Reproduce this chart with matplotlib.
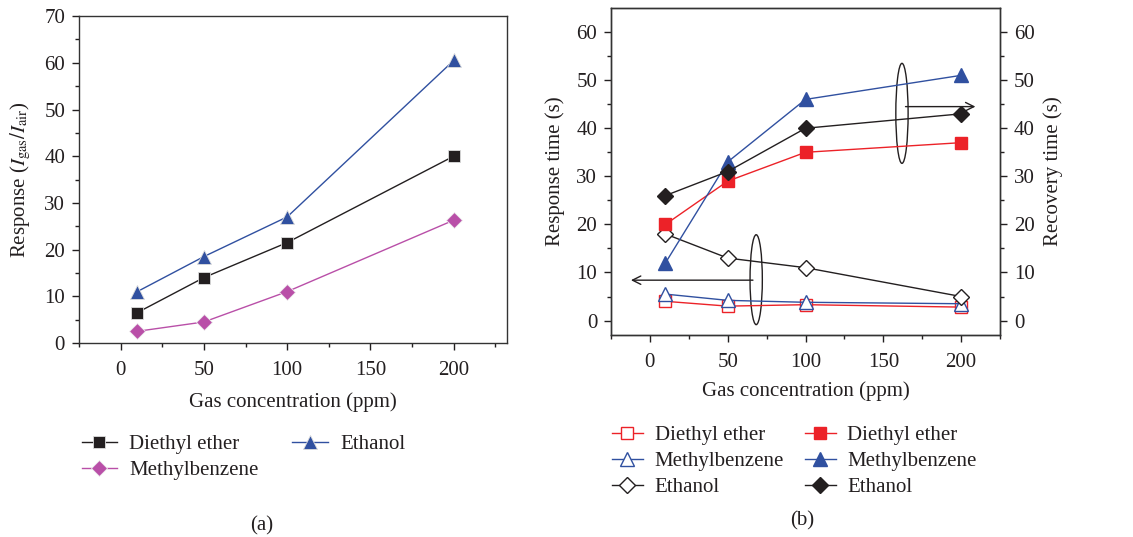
import matplotlib
matplotlib.use("Agg")
from matplotlib import pyplot as plt
from matplotlib.patches import Ellipse
import numpy as np

plt.rcParams['font.family'] = ['Liberation Serif', 'DejaVu Serif']
plt.rcParams['mathtext.fontset'] = 'stix'
plt.rcParams['text.color'] = '#231f20'
plt.rcParams['axes.labelcolor'] = '#231f20'
plt.rcParams['xtick.color'] = '#231f20'
plt.rcParams['ytick.color'] = '#231f20'

# gas concentrations (ppm)
conc = [10, 50, 100, 200]

# (a) response
resp_ether = [6.5, 14, 21.5, 40]
resp_ethanol = [11, 18.5, 27, 60.5]
resp_methyl = [2.5, 4.5, 11, 26.3]

# (b) response time (open) and recovery time (filled)
rt_ether = [4, 3, 3.3, 2.8]
rt_methyl = [5.5, 4.2, 3.8, 3.5]
rt_ethanol = [18, 13, 11, 5]
rec_ether = [20, 29, 35, 37]
rec_methyl = [12, 33, 46, 51]
rec_ethanol = [26, 31, 40, 43]

black = '#231f20'
blue = '#3050a0'
pink = '#b94fa8'
red = '#ec2228'

fs = 15

def style_axis(ax):
    for s in ax.spines.values():
        s.set_linewidth(1.0)
        s.set_color('#333333')
    ax.tick_params(which='major', direction='out', length=5, width=1, labelsize=fs, pad=5)
    ax.tick_params(which='minor', direction='out', length=3, width=1)
    ax.tick_params(axis='x', which='major', pad=8)
    ax.set_xticks([0, 50, 100, 150, 200])
    ax.set_xticks([-25, 25, 75, 125, 175, 225], minor=True)

fig = plt.figure(figsize=(11.33, 5.37), dpi=100)

# ---- panel (a)
ax1 = fig.add_axes([0.0697, 0.3613, 0.3778, 0.6087])
ax1.plot(conc, resp_ether, '-s', color=black, lw=1, ms=8, mec='#dddddd', mew=0.6, label='Diethyl ether')
ax1.plot(conc, resp_methyl, '-D', color=pink, lw=1, ms=8, mec='#eeeeee', mew=0.6, label='Methylbenzene')
ax1.plot(conc, resp_ethanol, '-^', color=blue, lw=1, ms=10, mec='#dddddd', mew=0.6, label='Ethanol')
ax1.set_xlim(-22, 232)
ax1.set_ylim(0, 70)
ax1.set_yticks(np.arange(0, 71, 10))
ax1.set_yticks(np.arange(5, 70, 10), minor=True)
style_axis(ax1)
ax1.set_xlabel('Gas concentration (ppm)', fontsize=fs, labelpad=9)
ax1.set_ylabel(r'Response ($I_{\mathrm{gas}}/I_{\mathrm{air}}$)', fontsize=fs, labelpad=8)
ax1.legend(loc='upper left', bbox_to_anchor=(0.072, 0.191), bbox_transform=fig.transFigure,
           ncol=2, frameon=False, fontsize=fs, handlelength=1.7, handletextpad=0.6,
           columnspacing=1.6, labelspacing=0.3, borderpad=0, borderaxespad=0)
fig.text(0.231, 0.013, '(a)', fontsize=fs, ha='center')

# ---- panel (b)
ax2 = fig.add_axes([0.5393, 0.3762, 0.3433, 0.6088])
ax2.plot(conc, rt_ether, '-s', color=red, lw=1, ms=8, mfc='white', mec=red, label='Diethyl ether')
ax2.plot(conc, rt_methyl, '-^', color=blue, lw=1, ms=10, mfc='white', mec=blue, label='Methylbenzene')
ax2.plot(conc, rt_ethanol, '-D', color=black, lw=1, ms=8, mfc='white', mec=black, label='Ethanol')
ax2.plot(conc, rec_ether, '-s', color=red, lw=1, ms=8, label='Diethyl ether')
ax2.plot(conc, rec_methyl, '-^', color=blue, lw=1, ms=10, label='Methylbenzene')
ax2.plot(conc, rec_ethanol, '-D', color=black, lw=1, ms=8, label='Ethanol')
ax2.set_xlim(-15, 214.5)
ax2.set_ylim(-3, 65)
ax2.set_yticks(np.arange(0, 61, 10))
ax2.set_yticks(np.arange(5, 65, 10), minor=True)
style_axis(ax2)
ax2.set_xlabel('Gas concentration (ppm)', fontsize=fs, labelpad=7)
ax2.set_ylabel('Response time (s)', fontsize=fs, labelpad=8)

ax3 = ax2.twinx()
ax3.set_ylim(-3, 65)
ax3.set_yticks(np.arange(0, 61, 10))
ax3.set_yticks(np.arange(5, 65, 10), minor=True)
for s in ax3.spines.values():
    s.set_linewidth(1.0)
    s.set_color('#333333')
ax3.tick_params(which='major', direction='out', length=5, width=1, labelsize=fs, pad=5)
ax3.tick_params(which='minor', direction='out', length=3, width=1)
ax3.set_ylabel('Recovery time (s)', fontsize=fs, labelpad=6)

# ellipses and arrows marking the axis for each group
ax2.add_patch(Ellipse((68.3, 8.5), 7.9, 18.7, fill=False, ec=black, lw=1))
ax2.annotate('', xy=(-14, 8.4), xytext=(68, 8.4),
             arrowprops=dict(arrowstyle='->', color=black, lw=1, mutation_scale=15))
ax2.add_patch(Ellipse((162, 43.1), 7.9, 20.8, fill=False, ec=black, lw=1))
ax2.annotate('', xy=(211, 44.5), xytext=(162.5, 44.5),
             arrowprops=dict(arrowstyle='->', color=black, lw=1, mutation_scale=15))

ax2.legend(loc='upper left', bbox_to_anchor=(0.540, 0.207), bbox_transform=fig.transFigure,
           ncol=2, frameon=False, fontsize=fs, handlelength=1.5, handletextpad=0.55,
           columnspacing=1.0, labelspacing=0.3, borderpad=0, borderaxespad=0)
fig.text(0.708, 0.022, '(b)', fontsize=fs, ha='center')

fig.savefig('out.png', dpi=100)
